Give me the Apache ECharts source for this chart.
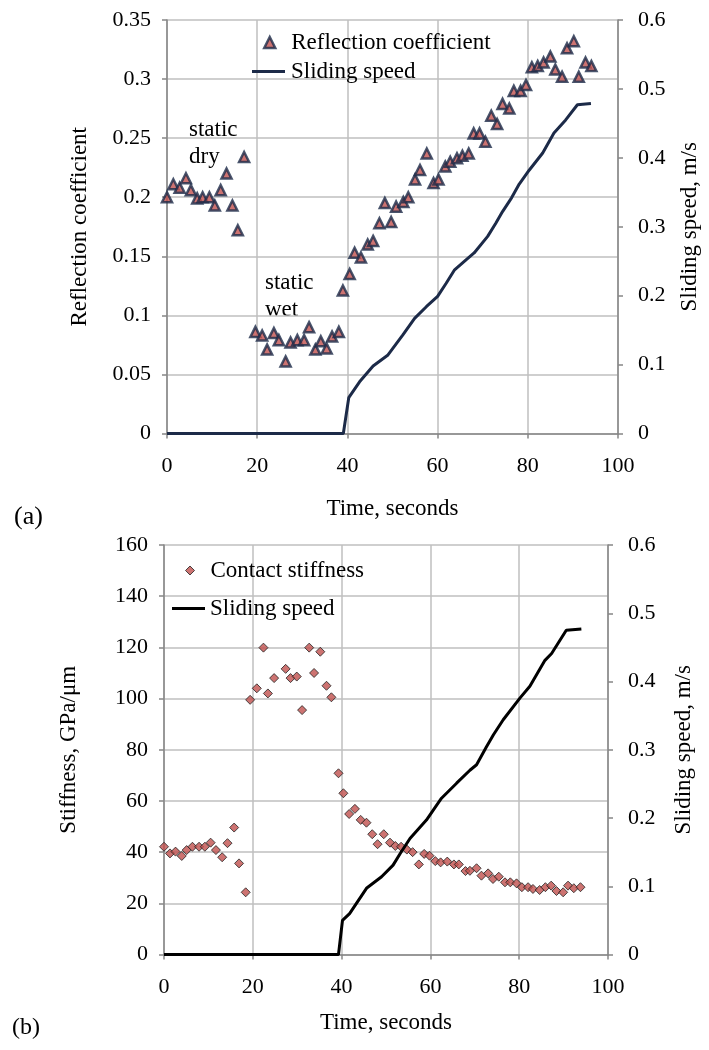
<!DOCTYPE html>
<html>
<head>
<meta charset="utf-8">
<script src="https://cdn.jsdelivr.net/npm/echarts@6/dist/echarts.min.js"></script>
<style>
  html, body { margin: 0; padding: 0; background: #fff; }
  #chart { width: 709px; height: 1050px; }
</style>
</head>
<body>
<div id="chart"></div>
<script>
// (a) reflection coefficient vs time
var reflTime = [0, 1.4, 2.8, 4.2, 5.3, 6.7, 7.9, 9.4, 10.6, 11.9, 13.2, 14.5, 15.7, 17.1,
  19.6, 21.1, 22.2, 23.7, 24.8, 26.3, 27.4, 28.9, 30.4, 31.5, 32.9, 34.1, 35.4, 36.6, 38.1,
  39.0, 40.5, 41.6, 43.0, 44.5, 45.7, 47.1, 48.3, 49.7, 50.8, 52.4, 53.5, 55.0, 56.1, 57.6,
  59.1, 60.2, 61.7, 62.8, 64.3, 65.5, 66.9, 68.0, 69.3, 70.6, 71.9, 73.2, 74.4, 75.9, 76.9,
  78.4, 79.6, 80.9, 82.2, 83.5, 85.0, 86.1, 87.6, 88.7, 90.2, 91.3, 92.8, 94.1];
var reflCoef = [0.200, 0.211, 0.208, 0.216, 0.206, 0.199, 0.200, 0.200, 0.193, 0.206, 0.220, 0.193, 0.172, 0.234,
  0.086, 0.083, 0.071, 0.085, 0.079, 0.061, 0.077, 0.079, 0.079, 0.090, 0.071, 0.078, 0.072, 0.082, 0.086,
  0.121, 0.135, 0.153, 0.149, 0.160, 0.163, 0.178, 0.195, 0.179, 0.192, 0.196, 0.200, 0.215, 0.223, 0.237,
  0.212, 0.215, 0.226, 0.230, 0.233, 0.235, 0.237, 0.254, 0.254, 0.247, 0.269, 0.262, 0.279, 0.275, 0.290,
  0.290, 0.295, 0.310, 0.311, 0.314, 0.319, 0.308, 0.302, 0.326, 0.332, 0.302, 0.314, 0.311];
var speedTimeA = [0, 39.1, 40.3, 42.7, 45.7, 49.0, 52.3, 54.9, 57.5, 60.0, 61.9, 63.7, 66.3, 68.1,
  71.1, 72.9, 74.4, 76.4, 78.1, 80.3, 83.3, 85.8, 88.4, 91.0, 94.0];
var speedA = [0, 0, 0.052, 0.075, 0.098, 0.114, 0.143, 0.167, 0.184, 0.199, 0.218, 0.237, 0.252, 0.262,
  0.286, 0.305, 0.322, 0.342, 0.362, 0.382, 0.407, 0.436, 0.455, 0.477, 0.479];

// (b) contact stiffness vs time
var stiffTime = [0, 1.35, 2.6, 4.0, 5.1, 6.4, 7.9, 9.2, 10.5, 11.7, 13.1, 14.3, 15.8, 16.9, 18.4,
  19.4, 20.9, 22.4, 23.4, 24.8, 27.4, 28.5, 29.9, 31.1, 32.7, 33.8, 35.2, 36.6, 37.7,
  39.3, 40.4, 41.7, 43.0, 44.3, 45.6, 46.9, 48.1, 49.5, 50.9, 52.1, 53.4, 54.7, 56.0, 57.4,
  58.6, 59.8, 61.1, 62.3, 63.8, 65.3, 66.4, 67.9, 68.9, 70.4, 71.5, 73.0, 74.1, 75.4, 76.8,
  78.0, 79.4, 80.6, 82.0, 83.1, 84.6, 85.9, 87.2, 88.4, 89.9, 91.0, 92.3, 93.8];
var stiffness = [42.1, 39.5, 40.2, 38.5, 40.8, 42.1, 42.1, 42.1, 43.7, 40.8, 38.0, 43.5, 49.6, 35.6, 24.3,
  99.5, 104, 119.9, 102, 108, 111.6, 108, 108.6, 95.5, 119.9, 110, 118.3, 105, 100.5,
  70.8, 63.0, 54.9, 56.9, 52.6, 51.5, 47.0, 43.1, 47.0, 43.7, 42.4, 42.1, 41.0, 40.0, 35.2,
  39.3, 38.6, 36.5, 36.0, 36.3, 35.2, 35.2, 32.6, 32.7, 33.7, 30.8, 31.7, 29.5, 30.4, 28.2,
  28.2, 27.8, 26.3, 26.3, 25.6, 25.2, 26.3, 26.9, 24.8, 24.3, 26.9, 25.9, 26.3];
var speedTimeB = [0, 39.3, 40.2, 41.8, 45.6, 49.0, 51.6, 53.2, 55.4, 59.1, 62.5, 65.9, 68.9, 70.4,
  72.6, 74.2, 76.4, 80.2, 82.4, 85.8, 87.3, 90.6, 94.0];
var speedB = [0, 0, 0.050, 0.060, 0.097, 0.114, 0.131, 0.148, 0.170, 0.197, 0.229, 0.251, 0.270, 0.278,
  0.304, 0.322, 0.344, 0.376, 0.393, 0.431, 0.441, 0.475, 0.477];

function pairs(xs, ys) {
  return xs.map(function (x, i) { return [x, ys[i]]; });
}

var FONT = 'Liberation Serif';
var NAVY = '#1c2a48';
var RED = '#c0504d';
var txt = { fontFamily: FONT, fontSize: 22, color: '#000' };
var gridLine = { show: true, lineStyle: { color: '#bfbfbf', width: 1.5 } };
var axisLine = { show: true, lineStyle: { color: '#868686', width: 1.5 } };
var tick = { show: true, inside: false, length: 5, lineStyle: { color: '#868686', width: 1.5 } };

function xAx(gridIndex, nameGap) {
  return {
    gridIndex: gridIndex, type: 'value', min: 0, max: 100, interval: 20,
    name: 'Time, seconds', nameLocation: 'middle', nameGap: nameGap,
    nameTextStyle: { fontFamily: FONT, fontSize: 23, color: '#000' },
    axisLine: axisLine, axisTick: tick, splitLine: gridLine,
    axisLabel: Object.assign({ margin: 22 }, txt)
  };
}

function yAx(gridIndex, pos, name, max, interval, nameGap, split) {
  return {
    gridIndex: gridIndex, type: 'value', position: pos, min: 0, max: max, interval: interval,
    name: name, nameLocation: 'middle', nameGap: nameGap, nameRotate: 90,
    nameTextStyle: { fontFamily: FONT, fontSize: 23, color: '#000' },
    axisLine: axisLine, axisTick: tick, splitLine: split ? gridLine : { show: false },
    axisLabel: Object.assign({ margin: pos === 'left' ? 16 : 20 }, txt)
  };
}

// one legend per entry so each icon can get its own size
function leg(name, icon, style, w, h, left, top, padLeft) {
  return {
    data: [{ name: name, icon: icon, itemStyle: style }],
    left: left, top: top, itemWidth: w, itemHeight: h, padding: 0,
    textStyle: { fontFamily: FONT, fontSize: 23, color: '#000', padding: [0, 0, 0, padLeft] }
  };
}

var chart = echarts.init(document.getElementById('chart'));
chart.setOption({
  animation: false,
  backgroundColor: '#fff',
  grid: [
    { left: 167, right: 90, top: 20, height: 413.5 },
    { left: 164, right: 101, top: 545, height: 409.5 }
  ],
  legend: [
    leg('Reflection coefficient', 'triangle', { color: RED, borderColor: NAVY, borderWidth: 2.5 }, 11, 11, 263, 31, 11),
    leg('Sliding speed', 'rect', { color: NAVY, borderWidth: 0 }, 33, 3, 252, 60, 1),
    leg('Contact stiffness', 'diamond', { color: RED, borderColor: '#222', borderWidth: 1 }, 9, 9, 185, 559, 11),
    leg('Sliding speed ', 'rect', { color: '#000', borderWidth: 0 }, 33, 3, 172, 597, 0)
  ],
  xAxis: [xAx(0, 64), xAx(1, 57)],
  yAxis: [
    yAx(0, 'left', 'Reflection coefficient', 0.35, 0.05, 76, true),
    yAx(0, 'right', 'Sliding speed, m/s', 0.6, 0.1, 60, false),
    yAx(1, 'left', 'Stiffness, GPa/\u03bcm', 160, 20, 84, true),
    yAx(1, 'right', 'Sliding speed, m/s', 0.6, 0.1, 64, false)
  ],
  series: [
    {
      name: 'Reflection coefficient', type: 'scatter', xAxisIndex: 0, yAxisIndex: 0,
      symbol: 'triangle', symbolSize: 10,
      itemStyle: { color: RED, borderColor: NAVY, borderWidth: 2.5 },
      data: pairs(reflTime, reflCoef)
    },
    {
      name: 'Sliding speed', type: 'line', xAxisIndex: 0, yAxisIndex: 1,
      symbol: 'none', lineStyle: { color: NAVY, width: 3 }, itemStyle: { color: NAVY },
      data: pairs(speedTimeA, speedA)
    },
    {
      name: 'Contact stiffness', type: 'scatter', xAxisIndex: 1, yAxisIndex: 2,
      symbol: 'diamond', symbolSize: 9,
      itemStyle: { color: RED, borderColor: '#222', borderWidth: 1 },
      data: pairs(stiffTime, stiffness)
    },
    {
      // trailing space keeps the two legends apart
      name: 'Sliding speed ', type: 'line', xAxisIndex: 1, yAxisIndex: 3,
      symbol: 'none', lineStyle: { color: '#000', width: 3 }, itemStyle: { color: '#000' },
      data: pairs(speedTimeB, speedB)
    }
  ],
  graphic: [
    { type: 'text', left: 189, top: 116, style: { text: 'static\ndry', font: '23px "Liberation Serif"', fill: '#000', lineHeight: 27 } },
    { type: 'text', left: 265, top: 269, style: { text: 'static\nwet', font: '23px "Liberation Serif"', fill: '#000', align: 'center', lineHeight: 27 } },
    { type: 'text', left: 14, top: 504, style: { text: '(a)', font: '26px "Liberation Serif"', fill: '#000' } },
    { type: 'text', left: 12, top: 1016, style: { text: '(b)', font: '24px "Liberation Serif"', fill: '#000' } }
  ]
});
</script>
</body>
</html>
